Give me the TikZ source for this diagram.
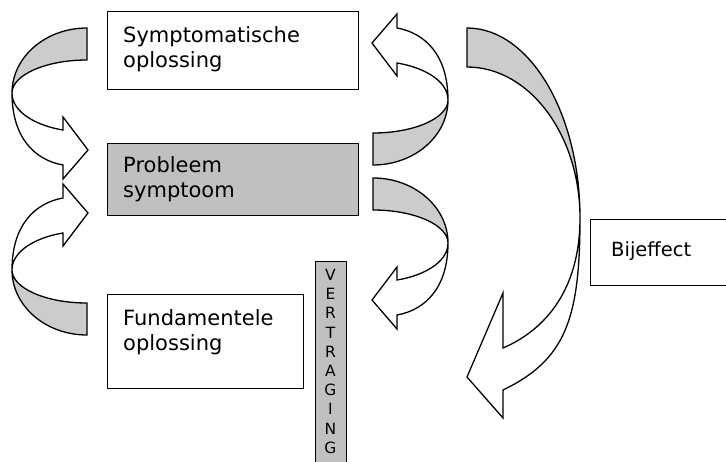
\documentclass[tikz,border=0pt]{standalone}
\usepackage{fontspec}
\setmainfont{DejaVu Sans}
\definecolor{boxgray}{RGB}{192,192,192}
\definecolor{bandgray}{RGB}{204,204,204}

% curved block arrow: the gray back side of the band, then the white front with its head
\newcommand\bandback{(87,28) .. controls (45.6,28) and (12,57) .. (12,93)
  .. controls (12,75) and (45.6,60) .. (87,60) -- cycle}
\newcommand\bandfront{(12,93) .. controls (12,138) and (35,160) .. (63,165)
  -- (63,179) -- (88,150) -- (63,117) -- (63,130)
  .. controls (38,126) and (12,113) .. (12,93) -- cycle}

\begin{document}
\begin{tikzpicture}[x=1pt,y=-1pt,
  outline/.style={draw=black, line width=1.3pt, line join=miter},
  backside/.style={outline, fill=bandgray},
  frontside/.style={outline, fill=white},
  box/.style={outline, rectangle, anchor=north west, inner sep=0pt},
  lbl/.style={anchor=north west, align=left, inner sep=0pt,
    font=\fontsize{21}{25}\selectfont},
  vlbl/.style={anchor=north, align=center, inner sep=0pt,
    font=\fontsize{15.5}{19.2}\selectfont}]
\useasboundingbox (0,0) rectangle (726,461);

% boxes
\node[box, fill=white, minimum width=251, minimum height=78] (symp) at (107,11) {};
\node[box, fill=boxgray, minimum width=251, minimum height=72] (prob) at (107,143) {};
\node[box, fill=white, minimum width=196, minimum height=94] (fund) at (107,294) {};
\node[box, fill=boxgray, minimum width=31, minimum height=230] (delay) at (315,261) {};
\node[box, fill=white, minimum width=160, minimum height=66] (side) at (590,219) {};

% labels
\node[lbl] (sympt) at (123,26) {Symptomatische\\oplossing};
\node[lbl] (probt) at (123,156) {Probleem\\symptoom};
\node[lbl] (fundt) at (123,309) {Fundamentele\\oplossing};
\node[lbl, font=\fontsize{19.5}{25}\selectfont] (sidet) at (611,241) {Bijeffect};
\node[vlbl] (delayt) at (330.5,269) {V\\E\\R\\T\\R\\A\\G\\I\\N\\G};

% symptomatic solution -> problem symptom
\path[backside] \bandback;
\path[frontside] \bandfront;
% fundamental solution -> problem symptom
\begin{scope}[shift={(0,363)}, yscale=-1]
  \path[backside] \bandback;
  \path[frontside] \bandfront;
\end{scope}
% problem symptom -> symptomatic solution
\begin{scope}[shift={(460,193)}, scale=-1]
  \path[backside] \bandback;
  \path[frontside] \bandfront;
\end{scope}
% problem symptom -> fundamental solution (via delay)
\begin{scope}[shift={(460,150)}, xscale=-1]
  \path[backside] \bandback;
  \path[frontside] \bandfront;
\end{scope}

% side effect arrow
\path[backside] (467,28) .. controls (529.4,28) and (580,113) .. (580,218)
  .. controls (580,135) and (529.4,67) .. (467,67) -- cycle;
\path[frontside] (580,218) .. controls (580,320) and (565,360) .. (503,390)
  -- (503,418) -- (467,377) -- (503,293) -- (503,348)
  .. controls (545,330) and (580,290) .. (580,218) -- cycle;
\end{tikzpicture}
\end{document}
